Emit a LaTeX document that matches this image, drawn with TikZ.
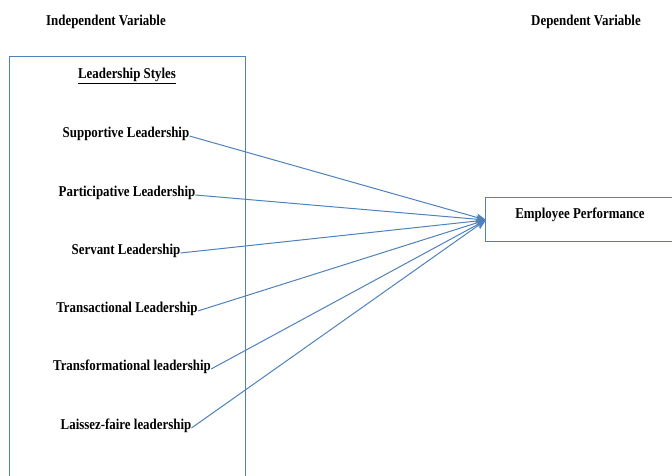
\documentclass[tikz,border=0pt]{standalone}
\usepackage{fontspec}
\setmainfont{Liberation Serif}[FakeStretch=0.86]
\usetikzlibrary{arrows.meta}
\definecolor{linkblue}{RGB}{79,129,189}
\begin{document}
\begin{tikzpicture}
  [x=1pt,y=-1pt
  ,lbl/.style={font=\bfseries\fontsize{15}{17}\selectfont,inner sep=0pt}
  ,link/.style={draw=linkblue,line width=1pt,-{Stealth[length=10pt,width=8pt]}}]
\useasboundingbox (0,0) rectangle (672,476);
% frames, both run off the page edge
\draw [linkblue,line width=1pt] (9,476) -- (9,57) -- (245,57) -- (245,476);
\draw [linkblue,line width=1pt] (672,197) -- (485,197) -- (485,241) -- (672,241);
%
\node at (106,22) (iv) [lbl] {Independent Variable};
\node at (586,22) (dv) [lbl] {Dependent Variable};
\node at (127,76) (ls) [lbl] {\underline{Leadership Styles}};
\node at (126,134) (s1) [lbl] {Supportive Leadership};
\node at (127,193) (s2) [lbl] {Participative Leadership};
\node at (126,251) (s3) [lbl] {Servant Leadership};
\node at (127,309) (s4) [lbl] {Transactional Leadership};
\node at (132,367) (s5) [lbl] {Transformational leadership};
\node at (126,426) (s6) [lbl] {Laissez-faire leadership};
\node at (580,215) (ep) [lbl] {Employee Performance};
\coordinate (tip) at (486,220);
%
\draw [link] ([yshift=-2pt]s1.east) -- (tip);
\draw [link] ([yshift=-2pt]s2.east) -- (tip);
\draw [link] ([yshift=-2pt]s3.east) -- (tip);
\draw [link] ([yshift=-2pt]s4.east) -- (tip);
\draw [link] ([yshift=-2pt]s5.east) -- (tip);
\draw [link] ([yshift=-2pt]s6.east) -- (tip);
\end{tikzpicture}
\end{document}
